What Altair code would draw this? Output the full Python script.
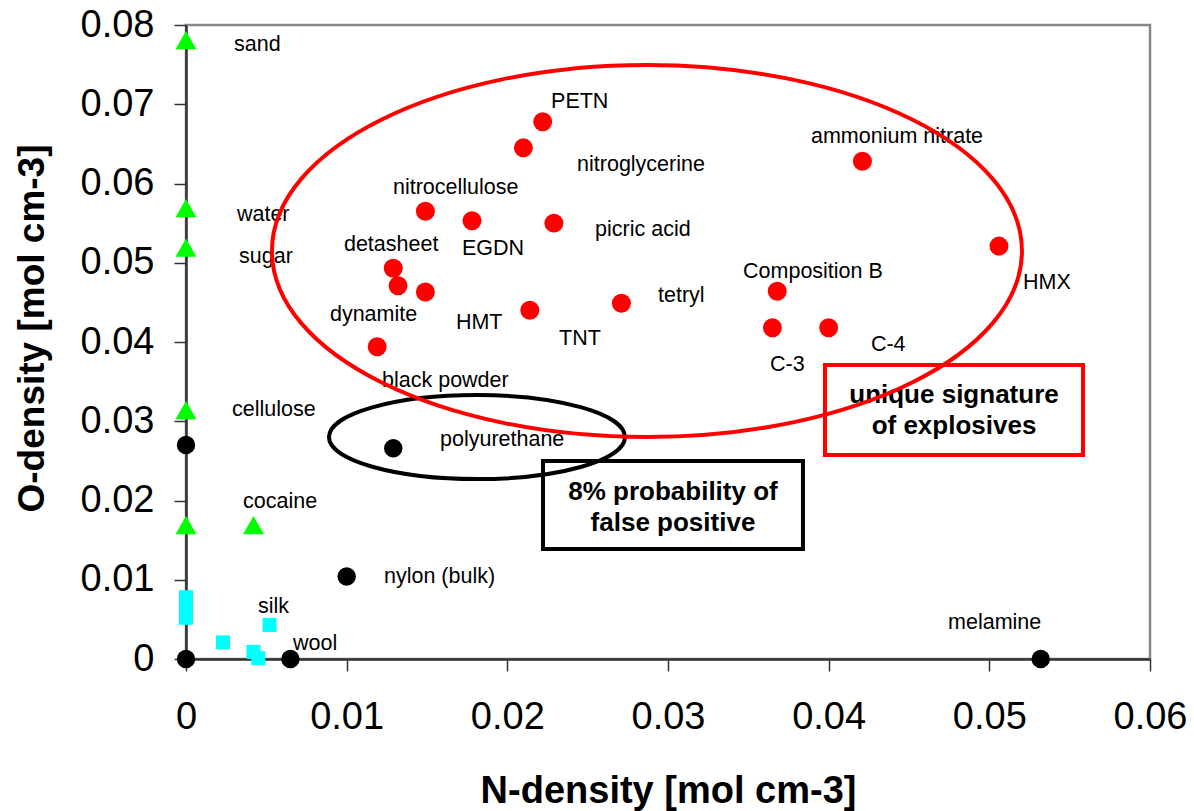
import altair as alt
import pandas as pd

# ---------------- data ----------------
# green triangles: sand, water, sugar, cellulose, (unlabelled), cocaine
tri_x = [0.0, 0.0, 0.0, 0.0, 0.0, 0.0042]
tri_y = [0.0781, 0.0569, 0.0519, 0.0314, 0.0169, 0.0169]

# cyan squares (silk / wool family)
sq_x = [0.0, 0.0, 0.0, 0.0023, 0.0042, 0.0045, 0.0052]
sq_y = [0.0078, 0.0065, 0.0052, 0.0021, 0.0009, 0.0001, 0.0043]

# black circles: (unlabelled), polyurethane, nylon, origin, wool, melamine
blk_x = [0.0, 0.0129, 0.0100, 0.0, 0.0065, 0.0532]
blk_y = [0.0270, 0.0266, 0.0104, 0.0, 0.0, 0.0]

# red circles: explosives
red_x = [0.0222, 0.0210, 0.0149, 0.0178, 0.0229, 0.0129, 0.0132, 0.0149,
         0.0214, 0.0271, 0.0119, 0.0421, 0.0506, 0.0368, 0.0365, 0.0400]
red_y = [0.0678, 0.0645, 0.0565, 0.0553, 0.0550, 0.0493, 0.0471, 0.0463,
         0.0440, 0.0449, 0.0394, 0.0628, 0.0521, 0.0464, 0.0418, 0.0418]

# point labels
lab_text = ["sand", "water", "sugar", "cellulose", "cocaine", "silk", "wool",
            "nylon (bulk)", "polyurethane", "melamine", "black powder",
            "dynamite", "detasheet", "nitrocellulose", "EGDN", "HMT", "TNT",
            "tetryl", "picric acid", "nitroglycerine", "PETN",
            "ammonium nitrate", "Composition B", "HMX", "C-3", "C-4"]
lab_x = [0.00299, 0.00317, 0.00330, 0.00286, 0.00355, 0.00448, 0.00666,
         0.01232, 0.01581, 0.04743, 0.01220, 0.00896, 0.00983, 0.01288,
         0.01718, 0.01680, 0.02322, 0.02938, 0.02546, 0.02434, 0.02272,
         0.03890, 0.03467, 0.05210, 0.03635, 0.04263]
lab_y = [0.07748, 0.05603, 0.05073, 0.03142, 0.01981, 0.00656, 0.00189,
         0.01035, 0.02763, 0.00454, 0.03508, 0.04341, 0.05224, 0.05943,
         0.05174, 0.04240, 0.04038, 0.04580, 0.05413, 0.06233, 0.07028,
         0.06587, 0.04883, 0.04744, 0.03710, 0.03962]

# annotation boxes
box_text = ["unique signature\nof explosives", "8% probability of\nfalse positive"]
box_x1 = [0.03977, 0.02222]
box_x2 = [0.05583, 0.03840]
box_y1 = [0.03710, 0.02498]
box_y2 = [0.02574, 0.01388]
box_tx = [0.04780, 0.03031]
box_ty = [0.03331, 0.02107]
box_col = ["#FF0000", "#000000"]

# ellipses (centre in data units)
ell_x = [0.02869, 0.01811]
ell_y = [0.05148, 0.02800]
ell_col = ["#FF0000", "#000000"]

x_ticks = [0, 0.01, 0.02, 0.03, 0.04, 0.05, 0.06]
y_ticks = [0, 0.01, 0.02, 0.03, 0.04, 0.05, 0.06, 0.07, 0.08]

FONT = "Liberation Sans"

# ---------------- tables ----------------
tri = pd.DataFrame({"x": tri_x, "y": tri_y})
sq = pd.DataFrame({"x": sq_x, "y": sq_y})
blk = pd.DataFrame({"x": blk_x, "y": blk_y})
red = pd.DataFrame({"x": red_x, "y": red_y})
labs = pd.DataFrame({"x": lab_x, "y": lab_y, "t": lab_text})
boxes = pd.DataFrame({"x1": box_x1, "x2": box_x2, "y1": box_y1, "y2": box_y2,
                      "tx": box_tx, "ty": box_ty, "t": box_text, "c": box_col})

xs = alt.Scale(domain=[0, 0.06], nice=False, zero=False)
ys = alt.Scale(domain=[0, 0.08], nice=False, zero=False)

X = alt.X("x:Q", scale=xs, title="N-density [mol cm-3]",
          axis=alt.Axis(values=x_ticks, format=".2~f", grid=False,
                        labelFontSize=38, labelPadding=27, labelFont=FONT,
                        tickSize=12, tickColor="#333333", tickWidth=1.5,
                        domainColor="#333333", domainWidth=2.5,
                        labelFlush=False, labelColor="#000000",
                        titleFontSize=38, titleFont=FONT, titleFontWeight="bold",
                        titleColor="#000000", titleBaseline="alphabetic",
                        titleY=143))
Y = alt.Y("y:Q", scale=ys, title="O-density [mol cm-3]",
          axis=alt.Axis(values=y_ticks, format=".2~f", grid=False,
                        labelFontSize=38, labelPadding=20, labelFont=FONT,
                        tickSize=12, tickColor="#333333", tickWidth=1.5,
                        domainColor="#333333", domainWidth=2.5,
                        labelFlush=False, labelColor="#000000",
                        titleFontSize=37, titleFont=FONT, titleFontWeight="bold",
                        titleColor="#000000", titleBaseline="alphabetic",
                        titleX=-143, titleY=303))

def ellipse_path(k):
    c = 0.5523
    return (f"M 1 0 C 1 {c*k:.4f} {c:.4f} {k:.4f} 0 {k:.4f} "
            f"C {-c:.4f} {k:.4f} -1 {c*k:.4f} -1 0 "
            f"C -1 {-c*k:.4f} {-c:.4f} {-k:.4f} 0 {-k:.4f} "
            f"C {c:.4f} {-k:.4f} 1 {-c*k:.4f} 1 0 Z")

ell_red = alt.Chart(pd.DataFrame({"x": [ell_x[0]], "y": [ell_y[0]]})).mark_point(
    shape=ellipse_path(186 / 375), size=750 ** 2, filled=False,
    stroke=ell_col[0], strokeWidth=4, opacity=1).encode(x=X, y=Y)
ell_blk = alt.Chart(pd.DataFrame({"x": [ell_x[1]], "y": [ell_y[1]]})).mark_point(
    shape=ellipse_path(42 / 148), size=296 ** 2, filled=False,
    stroke=ell_col[1], strokeWidth=4, opacity=1).encode(x=X, y=Y)

box_rect = alt.Chart(boxes).mark_rect(fill="#FFFFFF", fillOpacity=0, strokeWidth=4).encode(
    x=alt.X("x1:Q", scale=xs), x2="x2:Q",
    y=alt.Y("y1:Q", scale=ys), y2="y2:Q",
    stroke=alt.Color("c:N", scale=None))
box_txt = alt.Chart(boxes).mark_text(font=FONT, fontSize=26, fontWeight="bold",
                                     lineBreak="\n", lineHeight=31,
                                     align="center", baseline="middle",
                                     color="#000000").encode(
    x=alt.X("tx:Q", scale=xs), y=alt.Y("ty:Q", scale=ys), text="t:N")

p_tri = alt.Chart(tri).mark_point(shape="triangle-up", size=440, filled=True,
                                  color="#00FF00", opacity=1).encode(x=X, y=Y)
p_sq = alt.Chart(sq).mark_point(shape="square", size=196, filled=True,
                                color="#00FFFF", opacity=1).encode(x=X, y=Y)
p_blk = alt.Chart(blk).mark_point(shape="circle", size=340, filled=True,
                                  color="#000000", opacity=1).encode(x=X, y=Y)
p_red = alt.Chart(red).mark_point(shape="circle", size=360, filled=True,
                                  color="#FF0000", opacity=1).encode(x=X, y=Y)

p_lab = alt.Chart(labs).mark_text(font=FONT, fontSize=21.5, align="left",
                                  baseline="middle", color="#000000").encode(
    x=alt.X("x:Q", scale=xs), y=alt.Y("y:Q", scale=ys), text="t:N")

chart = alt.layer(
    p_lab, box_rect, box_txt, p_sq, p_tri, p_blk, p_red, ell_blk, ell_red
).properties(
    width=964, height=634,
    autosize=alt.AutoSizeParams(type="none"),
    padding={"left": 186, "top": 25, "right": 44, "bottom": 152},
    background="#FFFFFF",
).configure_view(stroke="#888888", strokeWidth=2.5)

chart.save("out.html", embed_options={"renderer": "svg", "actions": False})
